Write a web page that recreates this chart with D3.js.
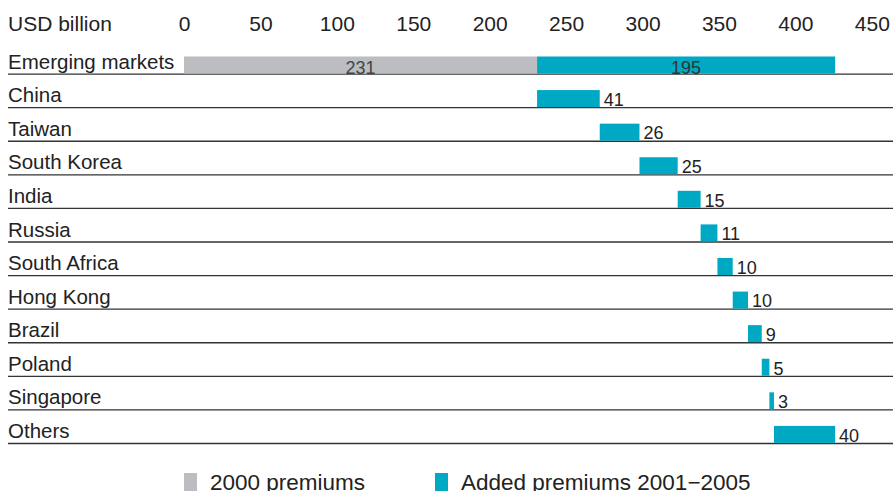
<!DOCTYPE html>
<html>
<head>
<meta charset="utf-8">
<script src="https://cdn.jsdelivr.net/npm/d3@7"></script>
<style>
  body { margin: 0; background: #fff; }
  text { font-family: "Liberation Sans", Arial, sans-serif; fill: #222; }
</style>
</head>
<body>
<div id="chart"></div>
<script>
// categories and values (USD billion)
var categories = ["Emerging markets", "China", "Taiwan", "South Korea", "India", "Russia",
                  "South Africa", "Hong Kong", "Brazil", "Poland", "Singapore", "Others"];
var base2000 = [231, 0, 0, 0, 0, 0, 0, 0, 0, 0, 0, 0];
var added = [195, 41, 26, 25, 15, 11, 10, 10, 9, 5, 3, 40];
var ticks = [0, 50, 100, 150, 200, 250, 300, 350, 400, 450];
var legendLabels = ["2000 premiums", "Added premiums 2001\u22122005"];

var width = 896, height = 491;
var grey = "#bcbdc1", teal = "#00a9c3";

var svg = d3.select("#chart").append("svg")
    .attr("width", width)
    .attr("height", height);

var x = d3.scaleLinear().domain([0, 450]).range([184, 871.8]);
var y = d3.scaleBand().domain(categories).range([40.5, 443.5]).paddingInner(0);
var barH = 17;

// waterfall: each country starts where the previous one ended
var rows = [];
var running = base2000[0];
categories.forEach(function(c, i) {
    var start;
    if (i === 0) start = base2000[0];
    else { start = running; running += added[i]; }
    rows.push({cat: c, base: base2000[i], start: start, val: added[i], idx: i});
});

// top axis
var axis = d3.axisTop(x).tickValues(ticks).tickSize(0).tickPadding(0);
var gAxis = svg.append("g").attr("transform", "translate(0,31)").call(axis);
gAxis.select(".domain").remove();
gAxis.selectAll("text")
    .attr("y", 0).attr("dy", 0)
    .style("font-size", "21px")
    .style("font-family", "'Liberation Sans', Arial, sans-serif")
    .attr("fill", "#222");

svg.append("text")
    .attr("x", 8).attr("y", 31)
    .style("font-size", "21px")
    .text("USD billion");

// row separator lines
svg.selectAll(".sep")
    .data(rows)
    .enter().append("line")
    .attr("class", "sep")
    .attr("x1", 8).attr("x2", 893)
    .attr("y1", function(d) { return y(d.cat) + y.bandwidth(); })
    .attr("y2", function(d) { return y(d.cat) + y.bandwidth(); })
    .attr("stroke", "#333")
    .attr("stroke-width", 1.3);

// category labels
svg.selectAll(".cat")
    .data(rows)
    .enter().append("text")
    .attr("class", "cat")
    .attr("x", 8)
    .attr("y", function(d) { return y(d.cat) + y.bandwidth() - 5.5; })
    .style("font-size", "20.5px")
    .text(function(d) { return d.cat; });

// 2000 premiums (grey)
svg.selectAll(".base")
    .data(rows.filter(function(d) { return d.base > 0; }))
    .enter().append("rect")
    .attr("class", "base")
    .attr("x", x(0))
    .attr("y", function(d) { return y(d.cat) + y.bandwidth() - barH - 0.6; })
    .attr("width", function(d) { return x(d.base) - x(0); })
    .attr("height", barH)
    .attr("fill", grey);

// added premiums (teal)
svg.selectAll(".add")
    .data(rows)
    .enter().append("rect")
    .attr("class", "add")
    .attr("x", function(d) { return x(d.start); })
    .attr("y", function(d) { return y(d.cat) + y.bandwidth() - barH - 0.6; })
    .attr("width", function(d) { return x(d.start + d.val) - x(d.start); })
    .attr("height", barH)
    .attr("fill", teal);

// value labels
var first = rows[0];
svg.append("text")
    .attr("x", (x(0) + x(first.base)) / 2)
    .attr("y", y(first.cat) + y.bandwidth() - 0.3)
    .attr("text-anchor", "middle")
    .style("font-size", "18px")
    .style("fill", "#444")
    .text(first.base);
svg.append("text")
    .attr("x", (x(first.start) + x(first.start + first.val)) / 2)
    .attr("y", y(first.cat) + y.bandwidth() - 0.3)
    .attr("text-anchor", "middle")
    .style("font-size", "18px")
    .style("fill", "#333")
    .text(first.val);

svg.selectAll(".val")
    .data(rows.slice(1))
    .enter().append("text")
    .attr("class", "val")
    .attr("x", function(d) { return x(d.start + d.val) + 4; })
    .attr("y", function(d) { return y(d.cat) + y.bandwidth() - 1.8; })
    .style("font-size", "18px")
    .text(function(d) { return d.val; });

// legend
var legend = svg.append("g");
var legX = [184, 435];
var legCol = [grey, teal];
legendLabels.forEach(function(l, i) {
    legend.append("rect")
        .attr("x", legX[i]).attr("y", 473)
        .attr("width", 13).attr("height", 18)
        .attr("fill", legCol[i]);
    legend.append("text")
        .attr("x", legX[i] + 26).attr("y", 489.5)
        .style("font-size", "22.5px")
        .text(l);
});
</script>
</body>
</html>
